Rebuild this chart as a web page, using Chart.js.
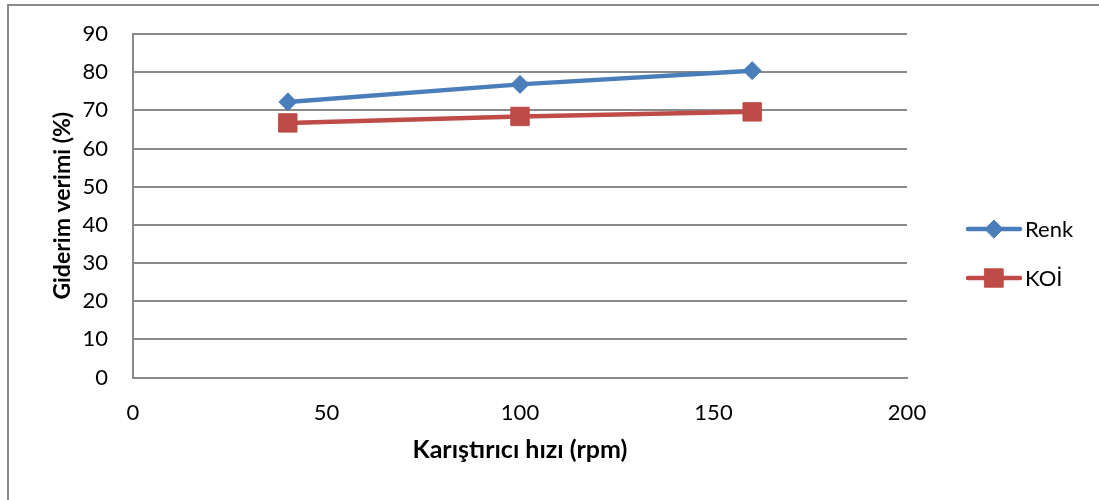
<!DOCTYPE html>
<html>
<head>
<meta charset="utf-8">
<script src="https://cdn.jsdelivr.net/npm/chart.js@4.4.1/dist/chart.umd.min.js"></script>
<style>
  html, body { margin: 0; padding: 0; background: #ffffff; }
  #wrap { position: relative; width: 1099px; height: 500px; }
</style>
</head>
<body>
<div id="wrap"><canvas id="chart" width="1099" height="500"></canvas></div>
<script>
// Mixing speed (rpm) and removal efficiency (%)
const speeds = [40, 100, 160];
const renkValues = [72.2, 76.8, 80.4];
const koiValues = [66.7, 68.4, 69.6];
const seriesNames = ['Renk', 'KOİ'];
const xTicks = [0, 50, 100, 150, 200];
const yTicks = [0, 10, 20, 30, 40, 50, 60, 70, 80, 90];

const BLUE = '#4A7EBB';
const RED = '#BE4B48';
const GRID = '#8a8a8a';
const TICK_FONT = 'Lato, "Open Sans", sans-serif';

const toPoints = (xs, ys) => xs.map((x, i) => ({ x: x, y: ys[i] }));

// Outer frame around the whole chart
const framePlugin = {
  id: 'frame',
  beforeDraw(chart) {
    const ctx = chart.ctx;
    ctx.save();
    ctx.fillStyle = '#ffffff';
    ctx.fillRect(0, 0, chart.width, chart.height);
    ctx.strokeStyle = GRID;
    ctx.lineWidth = 2;
    ctx.beginPath();
    ctx.moveTo(8, chart.height + 2);
    ctx.lineTo(8, 5);
    ctx.lineTo(chart.width + 2, 5);
    ctx.stroke();
    ctx.restore();
  }
};

// Legend on the right: short line with the series marker, then the label
const lineLegendPlugin = {
  id: 'lineLegend',
  afterDraw(chart) {
    const ctx = chart.ctx;
    const x0 = 968, x1 = 1020, textX = 1025;
    const rows = [229, 278];
    chart.data.datasets.forEach((ds, i) => {
      const y = rows[i];
      ctx.save();
      ctx.strokeStyle = ds.borderColor;
      ctx.lineWidth = ds.borderWidth;
      ctx.lineCap = 'round';
      ctx.beginPath();
      ctx.moveTo(x0, y);
      ctx.lineTo(x1, y);
      ctx.stroke();
      ctx.fillStyle = ds.pointBackgroundColor;
      ctx.strokeStyle = ds.pointBorderColor;
      ctx.lineWidth = ds.pointBorderWidth;
      Chart.helpers.drawPoint(ctx, {
        pointStyle: ds.pointStyle,
        radius: ds.pointRadius,
        borderWidth: ds.pointBorderWidth
      }, (x0 + x1) / 2, y);
      ctx.fillStyle = '#000000';
      ctx.font = '22px ' + TICK_FONT;
      ctx.textBaseline = 'middle';
      ctx.fillText(ds.label, textX, y + 1);
      ctx.restore();
    });
  }
};

new Chart(document.getElementById('chart'), {
  type: 'line',
  data: {
    datasets: [
      {
        label: seriesNames[0],
        data: toPoints(speeds, renkValues),
        borderColor: BLUE,
        backgroundColor: BLUE,
        borderWidth: 4.5,
        pointStyle: 'rectRot',
        pointRadius: 9,
        pointHoverRadius: 9,
        pointBorderWidth: 1,
        pointBorderColor: BLUE,
        pointBackgroundColor: BLUE,
        tension: 0
      },
      {
        label: seriesNames[1],
        data: toPoints(speeds, koiValues),
        borderColor: RED,
        backgroundColor: RED,
        borderWidth: 4.5,
        pointStyle: 'rect',
        pointRadius: 13,
        pointHoverRadius: 13,
        pointBorderWidth: 1,
        pointBorderColor: RED,
        pointBackgroundColor: RED,
        tension: 0
      }
    ]
  },
  options: {
    responsive: false,
    animation: false,
    events: [],
    layout: { padding: { left: 30, right: 192, top: 34, bottom: 0 } },
    plugins: {
      legend: { display: false },
      tooltip: { enabled: false }
    },
    scales: {
      x: {
        type: 'linear',
        min: 0,
        max: 200,
        afterBuildTicks(axis) { axis.ticks = xTicks.map(v => ({ value: v })); },
        afterFit(scale) { scale.height = 122.5; },
        grid: { display: false, drawTicks: false },
        border: { display: true, color: GRID, width: 2 },
        ticks: {
          padding: 22,
          color: '#000000',
          font: { family: TICK_FONT, size: 22 },
          maxRotation: 0
        },
        title: {
          display: true,
          text: 'Karıştırıcı hızı (rpm)',
          color: '#000000',
          font: { family: TICK_FONT, size: 25, weight: 'bold' },
          padding: { top: 0, bottom: 35 }
        }
      },
      y: {
        type: 'linear',
        min: 0,
        max: 90,
        afterBuildTicks(axis) { axis.ticks = yTicks.map(v => ({ value: v })); },
        afterFit(scale) {
          scale.width = 103;
          scale.paddingTop = 10;
          scale.paddingBottom = 10;
        },
        grid: { color: GRID, lineWidth: 2, drawTicks: false },
        border: { display: true, color: GRID, width: 2 },
        ticks: {
          padding: 25,
          color: '#000000',
          font: { family: TICK_FONT, size: 22 }
        },
        title: {
          display: true,
          text: 'Giderim verimi (%)',
          color: '#000000',
          font: { family: TICK_FONT, size: 23, weight: 'bold' },
          padding: { top: 19, bottom: 0 }
        }
      }
    }
  },
  plugins: [framePlugin, lineLegendPlugin]
});
</script>
</body>
</html>
